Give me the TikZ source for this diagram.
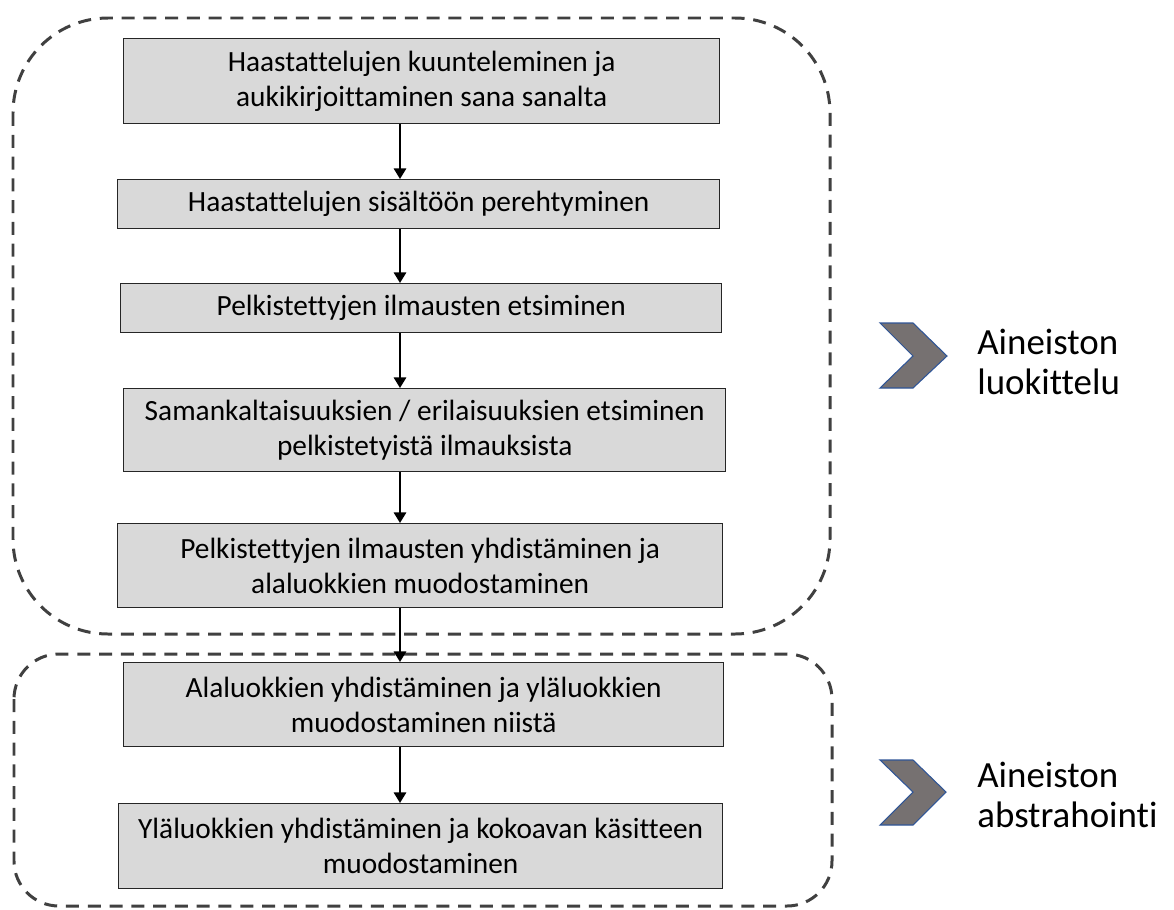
\documentclass[tikz,border=0pt]{standalone}
\usepackage{fontspec}
\setmainfont{Carlito}[Ligatures={NoCommon}]
\usetikzlibrary{arrows.meta}
\definecolor{boxfill}{HTML}{D9D9D9}
\definecolor{boxline}{HTML}{262626}
\definecolor{dashc}{HTML}{404040}
\definecolor{chevfill}{HTML}{767171}
\definecolor{chevline}{HTML}{2F5597}
\begin{document}
\begin{tikzpicture}[x=0.02cm,y=-0.02cm,
  stepbox/.style={draw=boxline,line width=0.8pt,fill=boxfill,anchor=north west,inner sep=0pt,align=center,
    font=\fontsize{16.7}{20}\selectfont},
  arr/.style={line width=1.1pt,-{Triangle[width=7pt,length=6pt]}},
  group/.style={draw=dashc,line width=1.7pt,dash pattern=on 7.4pt off 5pt},
  chev/.style={fill=chevfill,draw=chevline,line width=0.6pt},
  lab/.style={anchor=west,align=left,inner sep=0pt,font=\fontsize{21}{22.4}\selectfont}]
\useasboundingbox (0,0) rectangle (1174,910);
% groups
\draw[group,rounded corners=1.9cm] (13,18) rectangle (830,634);
\draw[group,rounded corners=0.9cm] (14,654) rectangle (832,906);
% boxes
\node[stepbox,minimum width=596*0.02cm,minimum height=85*0.02cm] (b1) at (123,38) {Haastattelujen kuunteleminen ja\\aukikirjoittaminen sana sanalta};
\node[stepbox,minimum width=602*0.02cm,minimum height=49*0.02cm] (b2) at (117,179) {Haastattelujen sisältöön perehtyminen};
\node[stepbox,minimum width=601*0.02cm,minimum height=49*0.02cm] (b3) at (120,283) {Pelkistettyjen ilmausten etsiminen};
\node[stepbox,minimum width=602*0.02cm,minimum height=83*0.02cm] (b4) at (123,388) {Samankaltaisuuksien / erilaisuuksien etsiminen\\pelkistetyistä ilmauksista};
\node[stepbox,minimum width=605*0.02cm,minimum height=84*0.02cm] (b5) at (117,523) {Pelkistettyjen ilmausten yhdistäminen ja\\alaluokkien muodostaminen};
\node[stepbox,minimum width=600*0.02cm,minimum height=84*0.02cm] (b6) at (123,662) {Alaluokkien yhdistäminen ja yläluokkien\\muodostaminen niistä};
\node[stepbox,minimum width=604*0.02cm,minimum height=85*0.02cm] (b7) at (118,803) {Yläluokkien yhdistäminen ja kokoavan käsitteen\\muodostaminen};
% arrows
\coordinate (ax) at (400,0);
\foreach \a/\b in {b1/b2,b2/b3,b3/b4,b4/b5,b5/b6,b6/b7}{
  \draw[arr] (\a.south -| ax) -- (\b.north -| ax);
}
% chevrons
\draw[chev] (880,323) -- (913,323) -- (947,356) -- (913,388) -- (880,388) -- (913,356) -- cycle;
\draw[chev] (880,760) -- (913,760) -- (946,792) -- (913,825) -- (880,825) -- (913,792) -- cycle;
\node[lab] (l1) at (977,362) {Aineiston\\luokittelu};
\node[lab] (l2) at (977,795) {Aineiston\\abstrahointi};
\end{tikzpicture}
\end{document}
